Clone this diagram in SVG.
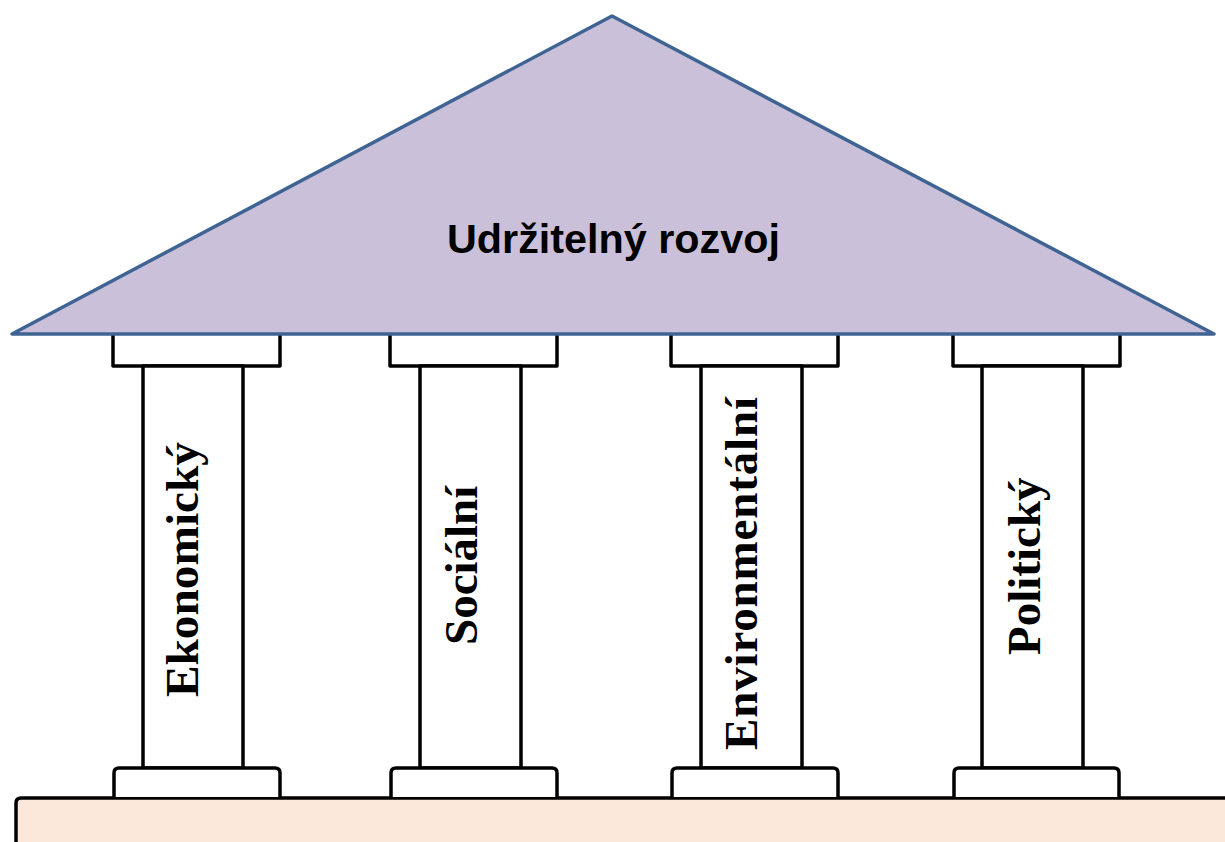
<svg xmlns="http://www.w3.org/2000/svg" width="1225" height="842" viewBox="0 0 1225 842">
  <style>
    .part { fill: #ffffff; stroke: #000000; stroke-width: 3.5; stroke-linejoin: round; }
    .ground { fill: #FCE8DA; stroke: #000000; stroke-width: 3.5; }
    .roof { fill: #CBC0DA; stroke: #3F6493; stroke-width: 3.5; stroke-linejoin: round; }
    .title { font-family: "Liberation Sans", Arial, sans-serif; font-weight: bold; font-size: 40px; fill: #000000; }
    .label { font-family: "Liberation Serif", "Times New Roman", serif; font-weight: bold; font-size: 47px; fill: #000000; }
  </style>

  <rect width="1225" height="842" fill="#ffffff"/>

  <!-- ground slab -->
  <g id="ground">
    <path class="ground" d="M16,850 L16,803 Q16,798 21,798 L1230,798 L1230,850 Z"/>
  </g>

  <!-- pillars: capital, shaft, base -->
  <g id="pillar-ekonomicky">
    <rect class="part" x="113" y="330" width="167" height="36"/>
    <rect class="part" x="143" y="366" width="100" height="402"/>
    <path class="part" d="M114,797 L114,773 Q114,768 119,768 L275,768 Q280,768 280,773 L280,797"/>
    <text class="label" transform="translate(198,697) rotate(-90)" textLength="255" lengthAdjust="spacingAndGlyphs">Ekonomický</text>
  </g>

  <g id="pillar-socialni">
    <rect class="part" x="390" y="330" width="167" height="36"/>
    <rect class="part" x="420" y="366" width="101" height="402"/>
    <path class="part" d="M391,797 L391,773 Q391,768 396,768 L552,768 Q557,768 557,773 L557,797"/>
    <text class="label" transform="translate(477,645) rotate(-90)">Sociální</text>
  </g>

  <g id="pillar-environmentalni">
    <rect class="part" x="671" y="330" width="167" height="36"/>
    <rect class="part" x="701" y="366" width="101" height="402"/>
    <path class="part" d="M672,797 L672,773 Q672,768 677,768 L833,768 Q838,768 838,773 L838,797"/>
    <text class="label" transform="translate(757,750) rotate(-90)" textLength="353" lengthAdjust="spacing">Environmentální</text>
  </g>

  <g id="pillar-politicky">
    <rect class="part" x="953" y="330" width="167" height="36"/>
    <rect class="part" x="982" y="366" width="101" height="402"/>
    <path class="part" d="M954,797 L954,773 Q954,768 959,768 L1114,768 Q1119,768 1119,773 L1119,797"/>
    <text class="label" transform="translate(1040,655) rotate(-90)">Politický</text>
  </g>

  <!-- roof -->
  <g id="roof">
    <polygon class="roof" points="612,16 1214,334 12,334"/>
    <text class="title" x="447" y="253" textLength="333" lengthAdjust="spacingAndGlyphs">Udržitelný rozvoj</text>
  </g>
</svg>
